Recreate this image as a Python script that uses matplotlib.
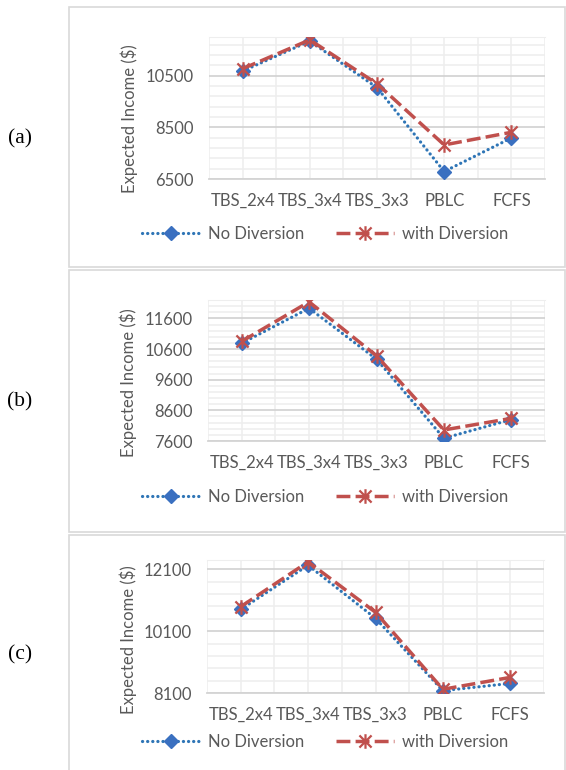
import matplotlib
matplotlib.use("Agg")
import matplotlib.pyplot as plt
from matplotlib.patches import Rectangle
from matplotlib.path import Path
from matplotlib.ticker import MultipleLocator, FixedLocator

categories = ["TBS_2x4", "TBS_3x4", "TBS_3x3", "PBLC", "FCFS"]

a_no = [10680, 11840, 10040, 6790, 8090]
a_with = [10770, 11890, 10190, 7820, 8310]
b_no = [10790, 11930, 10270, 7690, 8300]
b_with = [10850, 12140, 10380, 7960, 8340]
c_no = [10800, 12230, 10515, 8175, 8410]
c_with = [10890, 12340, 10710, 8220, 8605]

# (ymin, ymax, major, minor)
a_axis = (6500, 12000, 2000, 400)
b_axis = (7600, 12200, 1000, 200)
c_axis = (8100, 12400, 2000, 400)

W, H = 566, 770
GRAY = "#595959"
FONT = "Lato"
FS = 12

# asterisk marker like excel: an X plus a vertical bar
star = Path([(-1, -1), (1, 1), (-1, 1), (1, -1), (0, -1.2), (0, 1.2)],
            [Path.MOVETO, Path.LINETO, Path.MOVETO, Path.LINETO, Path.MOVETO, Path.LINETO])

fig = plt.figure(figsize=(W / 100, H / 100), dpi=100)


def fx(px):
    return px / W


def fy(py):
    return 1 - py / H


def panel(box, area, ylab_xy, legend_y, letter_y, letter, no_vals, with_vals, axis):
    bx0, by0, bx1, by1 = box
    fig.patches.append(Rectangle((fx(bx0), fy(by1)), fx(bx1 - bx0), (by1 - by0) / H,
                                 transform=fig.transFigure, fill=False,
                                 edgecolor="#d9d9d9", lw=1.2))
    x0, y0, x1, y1 = area
    ax = fig.add_axes([fx(x0), fy(y1), fx(x1 - x0), (y1 - y0) / H])
    ymin, ymax, major, minor = axis
    x = list(range(len(categories)))

    ax.plot(x, no_vals, color="#2E75B6", lw=2.3, linestyle=(0, (0.05, 1.55)),
            dash_capstyle="round", marker="D", markersize=7.5,
            markerfacecolor="#3A70C0", markeredgecolor="#3A70C0",
            label="No Diversion", zorder=3)
    ax.plot(x, with_vals, color="#C0504D", lw=2.5, linestyle=(0, (4, 1.5)),
            marker=star, markersize=10.5, markeredgewidth=1.6,
            markeredgecolor="#C0504D", markerfacecolor="none",
            label="with Diversion", zorder=4)

    ax.set_xlim(-0.5, len(categories) - 0.5)
    ax.set_ylim(ymin, ymax)
    ax.set_xticks(x)
    ax.set_xticklabels(categories)
    ax.xaxis.set_minor_locator(FixedLocator([i - 0.5 for i in range(len(categories) + 1)]))
    ax.yaxis.set_minor_locator(MultipleLocator(minor, offset=ymin))
    ax.set_yticks([t for t in range(ymin, ymax + 1, major)])

    ax.grid(True, which="major", axis="y", color="#d4d4d4", lw=1.3)
    ax.grid(True, which="minor", axis="y", color="#eeeeee", lw=1.1)
    ax.grid(True, which="both", axis="x", color="#eeeeee", lw=1.1)
    ax.set_axisbelow(True)

    ax.tick_params(axis="both", which="both", length=0, labelcolor=GRAY,
                   labelsize=FS)
    ax.tick_params(axis="y", pad=11)
    ax.tick_params(axis="x", pad=10)
    for lab in ax.get_xticklabels() + ax.get_yticklabels():
        lab.set_fontfamily(FONT)
    for s in ["left", "right"]:
        ax.spines[s].set_visible(False)
    ax.spines["top"].set_color("#eeeeee")
    ax.spines["bottom"].set_color("#d4d4d4")
    ax.spines["bottom"].set_linewidth(1.3)

    fig.text(fx(ylab_xy[0]), fy(ylab_xy[1]), "Expected Income ($)", rotation=90,
             ha="center", va="center", color=GRAY, fontsize=FS, family=FONT)

    leg = ax.legend(loc="center", bbox_to_anchor=(fx(325), fy(legend_y)),
                    bbox_transform=fig.transFigure, ncol=2, frameon=False,
                    handlelength=3.5, handletextpad=0.45, columnspacing=1.9,
                    numpoints=1, prop={"family": FONT, "size": FS})
    for t in leg.get_texts():
        t.set_color(GRAY)

    fig.text(fx(20), fy(letter_y), letter, ha="center", va="center",
             fontsize=15.5, family="Liberation Serif", color="black")
    return ax


panel((69, 7, 565, 267), (209, 37, 545, 179), (129, 119), 234, 139, "(a)",
      a_no, a_with, a_axis)
panel((69, 270, 565, 532), (208, 300, 545, 441), (128, 383), 497, 402, "(b)",
      b_no, b_with, b_axis)
panel((69, 535, 565, 772), (207, 560, 544, 693), (128, 640), 742, 655, "(c)",
      c_no, c_with, c_axis)

fig.savefig("out.png", dpi=100)
